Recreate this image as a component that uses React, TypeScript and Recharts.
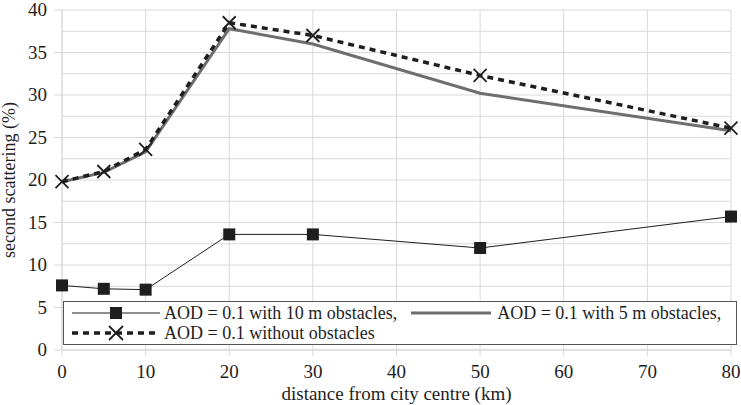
import React from 'react';
import { LineChart, Line, XAxis, YAxis, CartesianGrid, ReferenceLine } from 'recharts';

const distances = [0, 5, 10, 20, 30, 50, 80];
const obstacles10m = [7.6, 7.2, 7.1, 13.6, 13.6, 12.0, 15.7];
const obstacles5m = [19.8, 20.9, 23.3, 37.8, 36.0, 30.2, 25.8];
const noObstacles = [19.8, 21.0, 23.6, 38.5, 37.0, 32.3, 26.1];

const xTicks = [0, 10, 20, 30, 40, 50, 60, 70, 80];
const yTicks = [0, 5, 10, 15, 20, 25, 30, 35, 40];
const minorGrid = [2.5, 7.5, 12.5, 17.5, 22.5, 27.5, 32.5, 37.5];

const legendLabels = [
  'AOD = 0.1 with 10 m obstacles,',
  'AOD = 0.1 with 5 m obstacles,',
  'AOD = 0.1 without obstacles',
];

const data = distances.map((d, i) => ({
  d,
  o10: obstacles10m[i],
  o5: obstacles5m[i],
  none: noObstacles[i],
}));

const font = '"Times New Roman", "Liberation Serif", "DejaVu Serif", serif';
const ink = '#1e1e1e';
const gray = '#6e6e6e';
const grid = '#d9d9d9';

const XTick = (props: any) => {
  const { x, y, payload } = props;
  return (
    <text x={x} y={y + 14} textAnchor="middle" fill={ink} fontSize={19} fontFamily={font}>
      {payload.value}
    </text>
  );
};

const YTick = (props: any) => {
  const { x, y, payload } = props;
  return (
    <text x={x} y={y + 6} textAnchor="end" fill={ink} fontSize={19} fontFamily={font}>
      {payload.value}
    </text>
  );
};

const Square = (props: any) => {
  const { cx, cy } = props;
  if (cx == null || cy == null) return null;
  return <rect x={cx - 6} y={cy - 6} width={12} height={12} fill={ink} />;
};

const Cross = (props: any) => {
  const { cx, cy } = props;
  if (cx == null || cy == null) return null;
  const r = 6.5;
  return (
    <g stroke={ink} strokeWidth={1.8}>
      <line x1={cx - r} y1={cy - r} x2={cx + r} y2={cy + r} />
      <line x1={cx - r} y1={cy + r} x2={cx + r} y2={cy - r} />
    </g>
  );
};

// legend sits inside the plot, boxed, like the original figure
const LegendBox = () => (
  <div
    style={{
      position: 'absolute',
      left: 63,
      top: 301,
      width: 664,
      border: '1px solid #555',
      background: '#fff',
      fontFamily: font,
      fontSize: 18,
      color: ink,
      padding: '1px 0 1px 8px',
      lineHeight: '20px',
    }}
  >
    <div style={{ display: 'flex', alignItems: 'center', whiteSpace: 'nowrap' }}>
      <svg width={88} height={20}>
        <line x1={0} y1={10} x2={88} y2={10} stroke={ink} strokeWidth={1} />
        <rect x={38} y={4} width={12} height={12} fill={ink} />
      </svg>
      <span style={{ marginLeft: 4 }}>{legendLabels[0]}</span>
      <svg width={80} height={20} style={{ marginLeft: 14 }}>
        <line x1={0} y1={10} x2={80} y2={10} stroke={gray} strokeWidth={3} />
      </svg>
      <span style={{ marginLeft: 6 }}>{legendLabels[1]}</span>
    </div>
    <div style={{ display: 'flex', alignItems: 'center', whiteSpace: 'nowrap' }}>
      <svg width={88} height={20}>
        <line x1={0} y1={10} x2={88} y2={10} stroke={ink} strokeWidth={3.5} strokeDasharray="6 5" />
        <line x1={37} y1={3} x2={51} y2={17} stroke={ink} strokeWidth={1.8} />
        <line x1={37} y1={17} x2={51} y2={3} stroke={ink} strokeWidth={1.8} />
      </svg>
      <span style={{ marginLeft: 4 }}>{legendLabels[2]}</span>
    </div>
  </div>
);

export default function App() {
  return (
    <div style={{ position: 'absolute', left: 0, top: 0, width: 741, height: 405, background: '#fff' }}>
      <LineChart
        width={741}
        height={405}
        data={data}
        margin={{ top: 10, right: 10, bottom: 0, left: 0 }}
      >
        <CartesianGrid stroke={grid} />
        {minorGrid.map((v) => (
          <ReferenceLine key={v} y={v} stroke={grid} strokeWidth={1} />
        ))}
        <XAxis
          dataKey="d"
          type="number"
          domain={[0, 80]}
          ticks={xTicks}
          height={55}
          tick={<XTick />}
          tickLine={{ stroke: grid }}
          axisLine={{ stroke: grid }}
          tickSize={6}
          tickMargin={8}
          label={{ value: 'distance from city centre (km)', position: 'insideBottom', offset: 5, fontSize: 19, fill: ink, fontFamily: font }}
        />
        <YAxis
          type="number"
          domain={[0, 40]}
          ticks={yTicks}
          width={62}
          tick={<YTick />}
          tickLine={{ stroke: grid }}
          axisLine={{ stroke: grid }}
          tickSize={8}
          tickMargin={7}
          label={{ value: 'second scattering (%)', angle: -90, position: 'insideLeft', offset: 9, fontSize: 18, fill: ink, fontFamily: font, style: { textAnchor: 'middle' } }}
        />
        <Line dataKey="o10" name={legendLabels[0]} stroke={ink} strokeWidth={1} dot={<Square />} activeDot={false} isAnimationActive={false} />
        <Line dataKey="o5" name={legendLabels[1]} stroke={gray} strokeWidth={3} dot={false} activeDot={false} isAnimationActive={false} />
        <Line dataKey="none" name={legendLabels[2]} stroke={ink} strokeWidth={3.5} strokeDasharray="6 5" dot={<Cross />} activeDot={false} isAnimationActive={false} />
      </LineChart>
      <LegendBox />
    </div>
  );
}
